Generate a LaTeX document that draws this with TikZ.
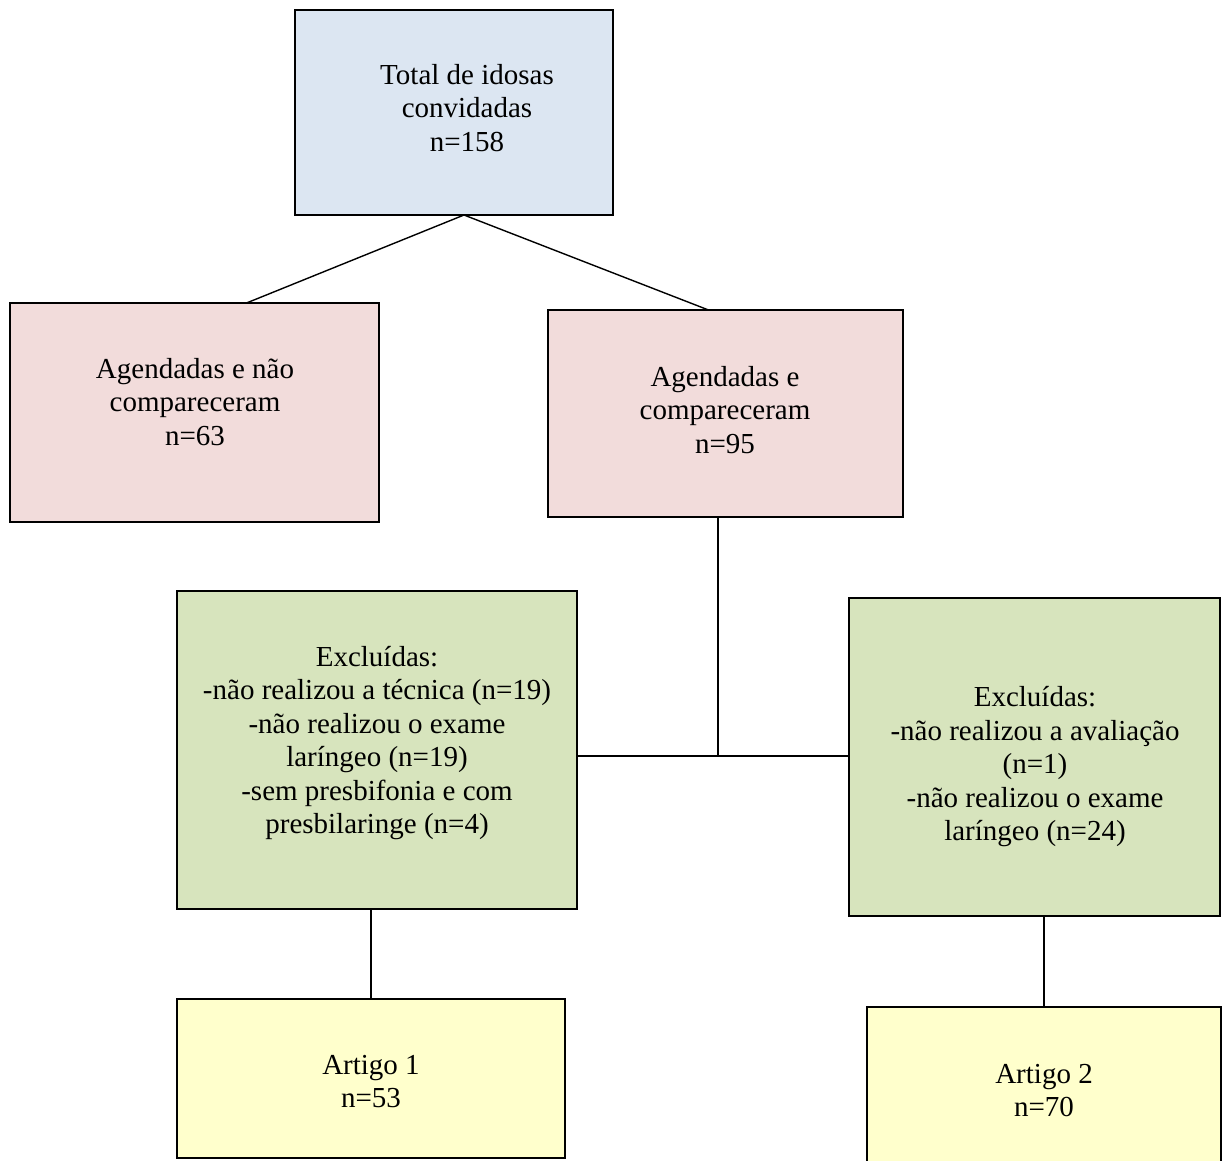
\documentclass[tikz,border=0pt]{standalone}
\usepackage{fontspec}
\setmainfont{Liberation Serif}
\usetikzlibrary{calc}
\definecolor{cblue}{HTML}{DCE6F2}
\definecolor{cpink}{HTML}{F2DCDB}
\definecolor{cgreen}{HTML}{D7E4BD}
\definecolor{cyellow}{HTML}{FFFFCC}
\tikzset{
  box/.style={draw=black, line width=1.4pt, rectangle, inner sep=0pt, outer sep=0pt},
  txt/.style={inner sep=0pt, align=center, font=\fontsize{29}{33.5}\selectfont},
  link/.style={draw=black, line width=1.4pt}
}
\begin{document}
\begin{tikzpicture}[x=1pt,y=-1pt]
\clip (0,0) rectangle (1228,1160);
\fill[white] (0,0) rectangle (1228,1160);
\node[box, fill=cblue, minimum width=318pt, minimum height=205pt] (top) at (454,112.5) {};
\node[txt] (topT) at (467,108) {Total de idosas\\convidadas\\n=158};
\node[box, fill=cpink, minimum width=369pt, minimum height=219pt] (pinkL) at (194.5,412.5) {};
\node[txt] (pinkLT) at (195,402) {Agendadas e não\\compareceram\\n=63};
\node[box, fill=cpink, minimum width=355pt, minimum height=207pt] (pinkR) at (725.5,413.5) {};
\node[txt] (pinkRT) at (725,410) {Agendadas e\\compareceram\\n=95};
\node[box, fill=cgreen, minimum width=400pt, minimum height=318pt] (greenL) at (377,750) {};
\node[txt] (greenLT) at (377,743)
  {Excluídas:\\-não realizou a técnica (n=19)\\-não realizou o exame\\laríngeo (n=19)\\-sem presbifonia e com\\presbilaringe (n=4)};
\node[box, fill=cgreen, minimum width=371pt, minimum height=318pt] (greenR) at (1034.5,757) {};
\node[txt] (greenRT) at (1035,767)
  {Excluídas:\\-não realizou a avaliação\\(n=1)\\-não realizou o exame\\laríngeo (n=24)};
\node[box, fill=cyellow, minimum width=388pt, minimum height=159pt] (yellowL) at (371,1078.5) {};
\node[txt] (yellowLT) at (371,1081.5) {Artigo 1\\n=53};
\node[box, fill=cyellow, minimum width=354pt, minimum height=166pt] (yellowR) at (1044,1090) {};
\node[txt] (yellowRT) at (1044,1090.5) {Artigo 2\\n=70};
\coordinate (apex) at ($(top.south)+(10pt,0)$);
\coordinate (j) at (718,756);
\draw[link] ($(pinkL.north)+(52pt,0)$) -- (apex) -- ($(pinkR.north)+(-17pt,0)$);
\draw[link] (pinkR.south -| j) -- (j);
\draw[link] (greenL.east |- j) -- (greenR.west |- j);
\draw[link] (yellowL.north) -- (yellowL.north |- greenL.south);
\draw[link] (yellowR.north) -- (yellowR.north |- greenR.south);
\end{tikzpicture}
\end{document}
